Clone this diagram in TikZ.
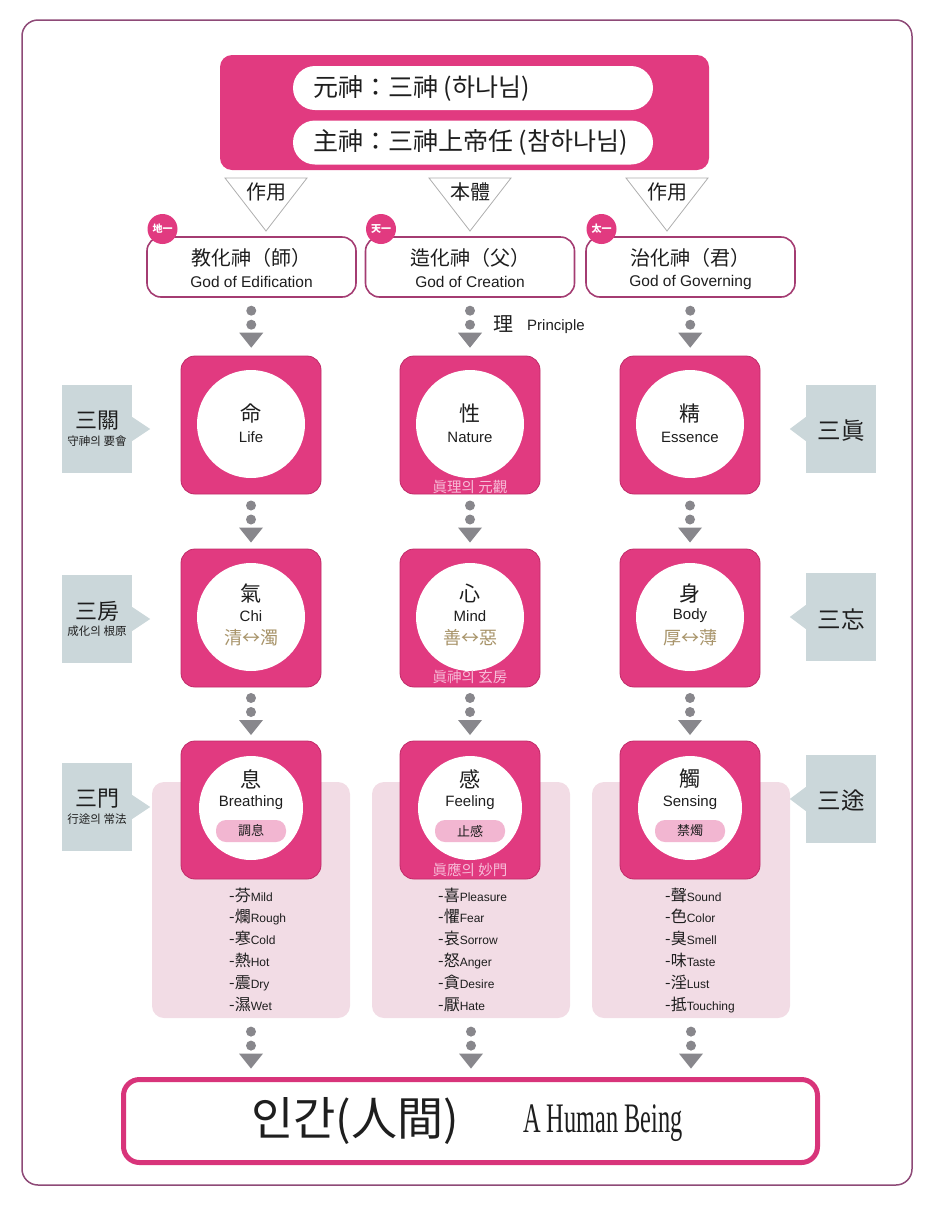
\documentclass[tikz,border=0pt]{standalone}
\usepackage{fontspec}
\usepackage{graphicx}
\setmainfont{Liberation Sans}
\newfontfamily\kr{Noto Sans CJK KR}
\newfontfamily\serifen{Liberation Serif}
\usetikzlibrary{calc}
\definecolor{mag}{HTML}{E13A80}
\definecolor{magdark}{HTML}{C02A68}
\definecolor{framec}{HTML}{8E4A77}
\definecolor{godborder}{HTML}{A43C72}
\definecolor{sidegray}{HTML}{CBD7DA}
\definecolor{panelpink}{HTML}{F2DCE5}
\definecolor{pillpink}{HTML}{F2B6D1}
\definecolor{arrowgray}{HTML}{88878C}
\definecolor{trigray}{HTML}{AEAEAE}
\definecolor{tan}{HTML}{A8946A}
\definecolor{sublabel}{HTML}{F7BCD8}
\definecolor{humanborder}{HTML}{D8347A}
\definecolor{ink}{HTML}{1E1E1E}
\newcommand\fs[1]{\fontsize{#1}{#1}\selectfont}
\newcommand\li[2]{{\kr\fs{16}-#1}{\fs{12}#2}}
\newcommand\dotarrow[2]{%
  \path #1 -- coordinate[midway] (mm) #2;
  \fill[arrowgray] ($(mm)+(0,-16)$) circle[radius=5pt];
  \fill[arrowgray] ($(mm)+(0,-2)$) circle[radius=5pt];
  \fill[arrowgray] ($(mm)+(-12,6)$) -- ($(mm)+(12,6)$) -- ($(mm)+(0,21)$) -- cycle;}
\begin{document}
\begin{tikzpicture}[x=1pt,y=-1pt,
  every node/.style={text=ink},
  magbox/.style={fill=mag, draw=magdark, line width=0.8pt, rounded corners=14pt, minimum width=140pt, minimum height=138pt, inner sep=0pt},
  circ/.style={circle, fill=white, minimum size=108pt, inner sep=0pt},
  circsm/.style={circle, fill=white, minimum size=104pt, inner sep=0pt},
  godbox/.style={draw=godborder, line width=1.6pt, fill=white, rounded corners=14pt, minimum width=209pt, minimum height=60pt, inner sep=0pt},
  sidebox/.style={fill=sidegray, minimum width=70pt, minimum height=88pt, inner sep=0pt},
  panel/.style={fill=panelpink, rounded corners=12pt, minimum width=198pt, minimum height=236pt, inner sep=0pt},
  pill/.style={fill=pillpink, rounded corners=10pt, minimum width=70pt, minimum height=22pt, inner sep=0pt},
  toppill/.style={fill=white, rounded corners=22pt, minimum width=360pt, minimum height=44pt, inner sep=0pt},
  badge/.style={circle, fill=mag, minimum size=30pt, inner sep=0pt},
  tri/.style={draw=trigray, line width=0.8pt}
]
\useasboundingbox (0,0) rectangle (936,1205);
\node[draw=framec, line width=1.5pt, rounded corners=16pt, minimum width=890pt, minimum height=1165pt, inner sep=0pt] (frame) at (467,602.5) {};

% top box
\node[fill=mag, rounded corners=12pt, minimum width=489pt, minimum height=115pt, inner sep=0pt] (top) at (464.5,112.5) {};
\node[toppill] (p1) at (473,88) {};
\node[toppill] (p2) at (473,142.5) {};
\node[anchor=west, inner sep=0pt] (p1t) at (313,88) {\kr\fs{25}元神：三神 (하나님)};
\node[anchor=west, inner sep=0pt] (p2t) at (313,142.5) {\kr\fs{25}主神：三神上帝任 (참하나님)};

% triangles
\foreach \x/\t [count=\i] in {266/作用,470/本體,667/作用}{
  \draw[tri] (\x-41,178) -- (\x+41,178) -- (\x,231) -- cycle;
  \node (t\i) at (\x,192) {\kr\fs{20}\t};
}

% god boxes
\foreach \x/\a/\b/\c [count=\i] in {251.5/教化神（師）/God of Edification/地一, 470/造化神（父）/God of Creation/天一, 690.5/治化神（君）/God of Governing/太一}{
  \node[godbox] (g\i) at (\x,267) {};
  \node (gk\i) at (\x,258) {\kr\fs{20}\a};
  \node (ge\i) at (\x,282) {\fs{15.5}\b};
  \node[badge] (b\i) at (\x-89,229) {\color{white}\kr\bfseries\fs{10}\c};
}

% panels
\node[panel] (pan1) at (251,900) {};
\node[panel] (pan2) at (471,900) {};
\node[panel] (pan3) at (691,900) {};

% magenta squares
\foreach \x [count=\i] in {251,470,690}{
  \node[magbox] (ra\i) at (\x,425) {};
  \node[circ] (ca\i) at (\x,424) {};
  \node[magbox] (rb\i) at (\x,618) {};
  \node[circ] (cb\i) at (\x,617) {};
  \node[magbox] (rc\i) at (\x,810) {};
  \node[circsm] (cc\i) at (\x,808) {};
}

% connectors
\dotarrow{(g1.south)}{(ra1.north)}
\dotarrow{(g2.south)}{(ra2.north)}
\dotarrow{(g3.south)}{(ra3.north)}
\dotarrow{(ra1.south)}{(rb1.north)}
\dotarrow{(ra2.south)}{(rb2.north)}
\dotarrow{(ra3.south)}{(rb3.north)}
\dotarrow{(rb1.south)}{(rc1.north)}
\dotarrow{(rb2.south)}{(rc2.north)}
\dotarrow{(rb3.south)}{(rc3.north)}

\node[anchor=west, inner sep=0pt] (pr) at (493,324) {\kr\fs{20}理};
\node[anchor=west, inner sep=0pt] (pre) at (527,327) {\fs{15}Principle};

% row 1 texts
\node (ka1) at (251,414) {\kr\fs{21}命};
\node (ea1) at (251,437) {\fs{15}Life};
\node (ka2) at (470,414) {\kr\fs{21}性};
\node (ea2) at (470,437) {\fs{15}Nature};
\node (ka3) at (690,414) {\kr\fs{21}精};
\node (ea3) at (690,437) {\fs{15}Essence};
\node (va) at (470,487) {\color{sublabel}\kr\fs{14.5}眞理의 元觀};

% row 2 texts
\node (kb1) at (251,593) {\kr\fs{21}氣};
\node (eb1) at (251,616) {\fs{15}Chi};
\node (tb1) at (251,638) {\color{tan}\kr\fs{18}清↔濁};
\node (kb2) at (470,593) {\kr\fs{21}心};
\node (eb2) at (470,616) {\fs{15}Mind};
\node (tb2) at (470,638) {\color{tan}\kr\fs{18}善↔惡};
\node (kb3) at (690,593) {\kr\fs{21}身};
\node (eb3) at (690,616) {\fs{15}Body};
\node (tb3) at (690,638) {\color{tan}\kr\fs{18}厚↔薄};
\node (vb) at (470,677) {\color{sublabel}\kr\fs{14.5}眞神의 玄房};

% row 3 texts
\node (kc1) at (251,779) {\kr\fs{21}息};
\node (ec1) at (251,803) {\fs{15}Breathing};
\node[pill] (q1) at (251,831) {\kr\fs{13}調息};
\node (kc2) at (470,779) {\kr\fs{21}感};
\node (ec2) at (470,803) {\fs{15}Feeling};
\node[pill] (q2) at (470,831) {\kr\fs{13}止感};
\node (kc3) at (690,779) {\kr\fs{21}觸};
\node (ec3) at (690,803) {\fs{15}Sensing};
\node[pill] (q3) at (690,831) {\kr\fs{13}禁燭};
\node (vc) at (470,870) {\color{sublabel}\kr\fs{14.5}眞應의 妙門};

% lists
\foreach \c/\e [count=\i from 0] in {芬/Mild,爛/Rough,寒/Cold,熱/Hot,震/Dry,濕/Wet}{
  \node[anchor=base west, inner sep=0pt] (la\i) at (229,901+\i*21.8) {\li{\c}{\e}};
}
\foreach \c/\e [count=\i from 0] in {喜/Pleasure,懼/Fear,哀/Sorrow,怒/Anger,貪/Desire,厭/Hate}{
  \node[anchor=base west, inner sep=0pt] (lb\i) at (438,901+\i*21.8) {\li{\c}{\e}};
}
\foreach \c/\e [count=\i from 0] in {聲/Sound,色/Color,臭/Smell,味/Taste,淫/Lust,抵/Touching}{
  \node[anchor=base west, inner sep=0pt] (lc\i) at (665,901+\i*21.8) {\li{\c}{\e}};
}

% side boxes left
\foreach \y/\a/\b [count=\i] in {429/三關/守神의 要會, 619/三房/成化의 根原, 807/三門/行途의 常法}{
  \node[sidebox] (sl\i) at (97,\y) {};
  \fill[sidegray] ($(sl\i.east)+(0,-12)$) -- ($(sl\i.east)+(18,0)$) -- ($(sl\i.east)+(0,12)$) -- cycle;
  \node (slk\i) at (97,\y-8) {\kr\fs{22}\a};
  \node (sls\i) at (97,\y+12) {\kr\fs{11.5}\b};
}
% side boxes right
\foreach \y/\a [count=\i] in {429/三眞, 617/三忘, 799/三途}{
  \node[sidebox] (sr\i) at (841,\y) {};
  \fill[sidegray] ($(sr\i.west)+(0,-12)$) -- ($(sr\i.west)+(-16,0)$) -- ($(sr\i.west)+(0,12)$) -- cycle;
  \node (srk\i) at (841,\y+2) {\kr\fs{23.5}\a};
}

% bottom
\node[draw=humanborder, line width=5pt, fill=white, rounded corners=16pt, minimum width=694pt, minimum height=83pt, inner sep=0pt] (hum) at (470.5,1121) {};
\dotarrow{(pan1.south)}{(pan1.south |- hum.north)}
\dotarrow{(pan2.south)}{(pan2.south |- hum.north)}
\dotarrow{(pan3.south)}{(pan3.south |- hum.north)}
\node (hk) at (355,1121) {\kr\fs{46}인간(人間)};
\node (he) at (603,1123) {\serifen\scalebox{0.58}[1]{\fs{42}A Human Being}};
\end{tikzpicture}
\end{document}
